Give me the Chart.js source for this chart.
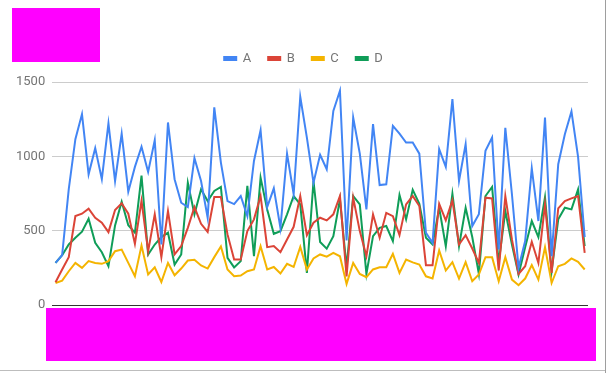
<!DOCTYPE html>
<html>
<head>
<meta charset="utf-8">
<script src="https://cdn.jsdelivr.net/npm/chart.js"></script>
<style>
  body { margin: 0; background: #fff; }
  #wrap { position: relative; width: 608px; height: 373px; overflow: hidden; }
  .mask { position: absolute; background: #ff00ff; }
  #edge { position: absolute; left: 605px; top: 0; width: 1px; height: 373px; background: #9e9e9e; }
  #foot { position: absolute; left: 0; top: 370px; width: 605px; height: 1px; background: #bdbdbd; }
</style>
</head>
<body>
<div id="wrap">
  <canvas id="chart" width="608" height="373"></canvas>
  <div class="mask" style="left:12px;top:8px;width:88px;height:54px;"></div>
  <div class="mask" style="left:46px;top:308px;width:550px;height:53px;"></div>
  <div id="edge"></div>
  <div id="foot"></div>
</div>
<script>
var seriesNames = ["A", "B", "C", "D"];
var seriesColours = ["#4285f4", "#db4437", "#f4b400", "#0f9d58"];

var valuesA = [283, 335, 780, 1115, 1284, 879, 1055, 846, 1221, 834,
  1153, 762, 929, 1065, 895, 1109, 407, 1228, 846, 688,
  659, 988, 834, 587, 1329, 958, 699, 679, 733, 598,
  969, 1176, 659, 785, 519, 1018, 745, 1401, 1126, 823,
  1010, 913, 1306, 1441, 434, 1261, 1018, 643, 1217, 807,
  812, 1205, 1153, 1093, 1093, 1018, 486, 418, 1048, 929,
  1385, 834, 1082, 531, 610, 1037, 1126, 374, 1192, 745,
  250, 430, 920, 565, 1261, 328, 947, 1149, 1302, 996, 457];
var valuesB = [153, 239, 322, 598, 614, 648, 587, 553, 490, 639,
  684, 614, 412, 700, 362, 610, 322, 632, 340, 396,
  519, 659, 546, 492, 726, 726, 475, 306, 306, 497,
  576, 733, 389, 396, 355, 441, 526, 733, 470, 553,
  587, 569, 610, 733, 193, 722, 497, 328, 610, 452,
  620, 598, 470, 677, 733, 666, 268, 268, 681, 569,
  704, 407, 470, 380, 283, 722, 717, 232, 733, 441,
  209, 261, 425, 283, 677, 216, 650, 699, 717, 733, 351];
var valuesC = [148, 164, 227, 283, 250, 295, 283, 277, 295, 362,
  373, 283, 193, 400, 205, 254, 155, 283, 200, 245,
  299, 304, 266, 245, 322, 394, 239, 193, 198, 227,
  239, 396, 239, 256, 212, 277, 256, 391, 239, 313,
  340, 325, 351, 328, 142, 283, 209, 187, 239, 254,
  254, 344, 216, 306, 287, 272, 193, 178, 367, 232,
  288, 178, 288, 160, 205, 322, 322, 160, 322, 171,
  133, 178, 268, 171, 389, 148, 261, 277, 313, 290, 239];
var valuesD = [283, 335, 407, 452, 493, 580, 418, 355, 261, 535,
  695, 537, 486, 870, 340, 407, 457, 486, 272, 340,
  823, 610, 778, 699, 767, 794, 317, 253, 295, 801,
  328, 857, 643, 479, 497, 610, 733, 677, 216, 834,
  424, 379, 463, 711, 254, 733, 677, 209, 463, 519,
  531, 430, 740, 576, 775, 681, 452, 407, 654, 396,
  749, 396, 654, 457, 209, 733, 794, 283, 632, 407,
  205, 389, 565, 457, 726, 227, 576, 654, 643, 778, 396];

var yTicks = [0, 500, 1000, 1500];

// x categories are hidden under the bottom box, only their count matters
var categories = valuesA.map(function (v, i) { return String(i + 1); });

var allValues = [valuesA, valuesB, valuesC, valuesD];
var datasets = seriesNames.map(function (name, i) {
  return {
    label: name,
    data: allValues[i],
    borderColor: seriesColours[i],
    backgroundColor: seriesColours[i],
    borderWidth: 2,
    pointRadius: 0,
    tension: 0,
    fill: false
  };
});

// extra room between legend and plot, and nudge legend to the right
var legendGap = {
  id: "legendGap",
  beforeInit: function (chart) {
    var fit = chart.legend.fit;
    chart.legend.fit = function () {
      fit.call(this);
      this.height += 7;
    };
  },
  afterLayout: function (chart) {
    chart.legend.left += 5;
    chart.legend.right += 5;
  }
};

var ctx = document.getElementById("chart").getContext("2d");
new Chart(ctx, {
  type: "line",
  data: { labels: categories, datasets: datasets },
  plugins: [legendGap],
  options: {
    responsive: false,
    animation: false,
    layout: { padding: { top: 35, left: 9, right: 20, bottom: 60 } },
    plugins: {
      tooltip: { enabled: false },
      legend: {
        position: "top",
        labels: {
          boxWidth: 12,
          boxHeight: 3,
          padding: 17,
          color: "#757575",
          font: { family: "Roboto", size: 13 }
        }
      }
    },
    scales: {
      x: {
        offset: true,
        grid: { display: false },
        border: { display: false },
        ticks: { display: false }
      },
      y: {
        min: yTicks[0],
        max: yTicks[yTicks.length - 1],
        afterBuildTicks: function (axis) {
          axis.ticks = yTicks.map(function (v) { return { value: v }; });
        },
        border: { display: false },
        grid: {
          drawTicks: false,
          lineWidth: 1,
          color: function (c) { return c.tick && c.tick.value === 0 ? "#333333" : "#cccccc"; }
        },
        ticks: {
          padding: 7,
          color: "#757575",
          font: { family: "Roboto", size: 13 },
          callback: function (v) { return String(v); }
        }
      }
    }
  }
});
</script>
</body>
</html>
